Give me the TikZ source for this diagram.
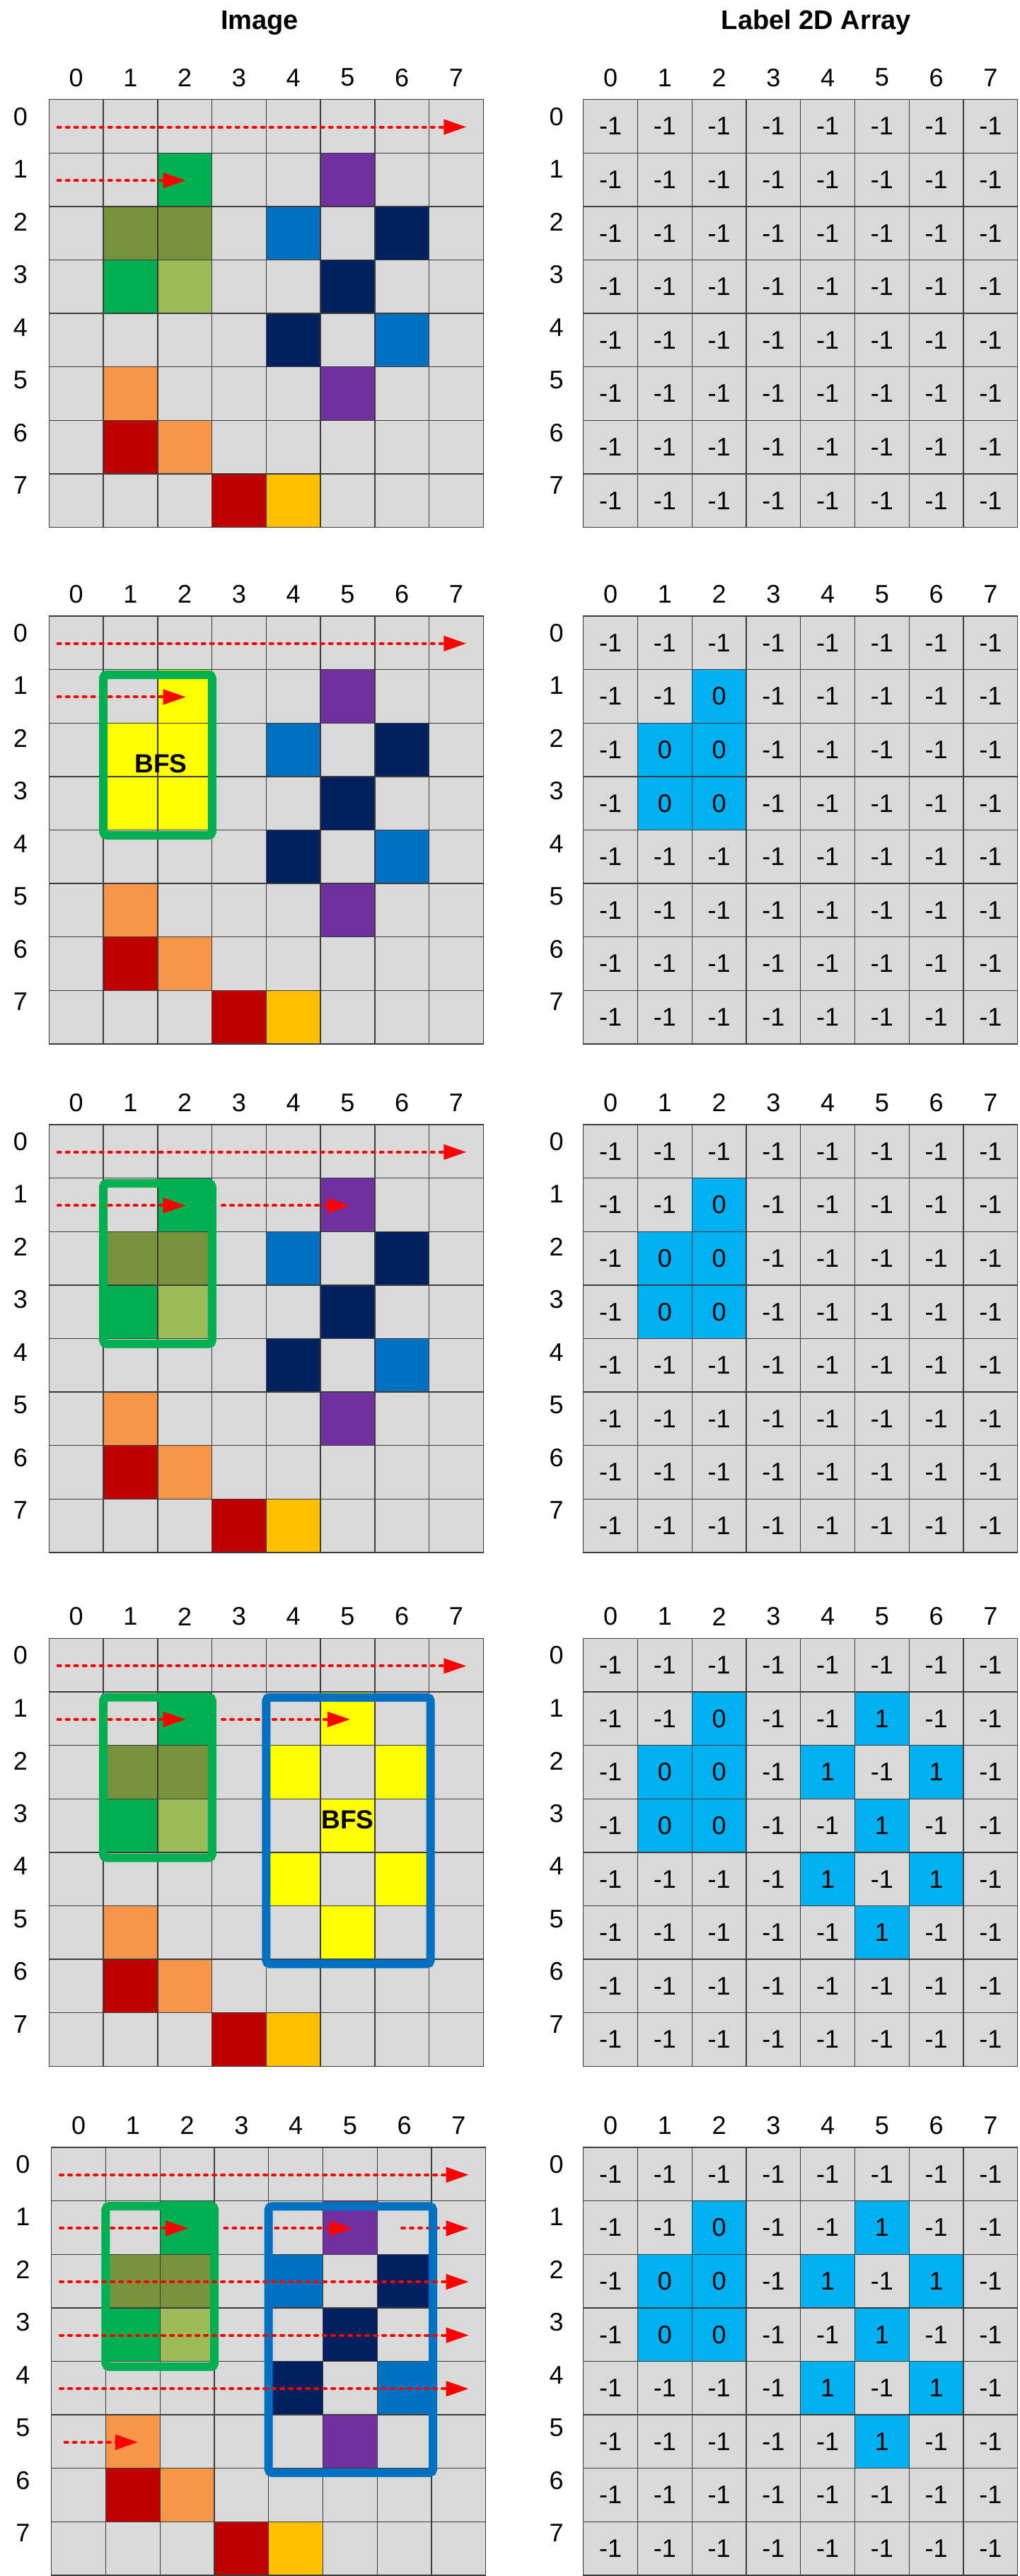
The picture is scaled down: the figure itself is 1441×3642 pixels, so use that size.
\documentclass[tikz,border=0pt]{standalone}
\usepackage{fontspec}
\setmainfont{Liberation Sans}
\usetikzlibrary{arrows.meta}
\definecolor{cellGray}{RGB}{217,217,217}
\definecolor{gridLine}{RGB}{60,60,60}
\definecolor{imgGreen}{RGB}{0,176,80}
\definecolor{imgOlive}{RGB}{119,147,60}
\definecolor{imgLime}{RGB}{155,187,89}
\definecolor{imgPurple}{RGB}{112,48,160}
\definecolor{imgBlue}{RGB}{0,112,192}
\definecolor{imgNavy}{RGB}{0,32,96}
\definecolor{imgPeach}{RGB}{247,150,70}
\definecolor{imgRed}{RGB}{192,0,0}
\definecolor{imgGold}{RGB}{255,192,0}
\definecolor{hitYellow}{RGB}{255,255,0}
\definecolor{labCyan}{RGB}{0,176,240}
\definecolor{scanRed}{RGB}{255,0,0}

\newcommand\cellw{76.75}
\newcommand\cellh{75.6}
% pixel colours of the image: row/col/colour
\newcommand\imgcells{1/2/imgGreen,3/1/imgGreen,2/1/imgOlive,2/2/imgOlive,3/2/imgLime,1/5/imgPurple,5/5/imgPurple,2/4/imgBlue,4/6/imgBlue,2/6/imgNavy,3/5/imgNavy,4/4/imgNavy,5/1/imgPeach,6/2/imgPeach,6/1/imgRed,7/3/imgRed,7/4/imgGold}
\newcommand\compA{1/2,2/1,2/2,3/1,3/2}
\newcommand\compB{1/5,2/4,2/6,3/5,4/4,4/6,5/5}
% final labels, row by row
\newcommand\finallab{{-1,-1,-1,-1,-1,-1,-1,-1,
 -1,-1,0,-1,-1,1,-1,-1,
 -1,0,0,-1,1,-1,1,-1,
 -1,0,0,-1,-1,1,-1,-1,
 -1,-1,-1,-1,1,-1,1,-1,
 -1,-1,-1,-1,-1,1,-1,-1,
 -1,-1,-1,-1,-1,-1,-1,-1,
 -1,-1,-1,-1,-1,-1,-1,-1}}

\begin{document}
\begin{tikzpicture}[x=0.5pt,y=-0.5pt,
  idx/.style={font=\fontsize{18}{21}\selectfont,inner sep=0pt},
  cell/.style={draw=gridLine,line width=0.7pt,inner sep=0pt,minimum width=38.375pt,minimum height=37.8pt,font=\fontsize{18}{21}\selectfont},
  scan/.style={scanRed,line width=2pt,line cap=round,dash pattern=on 2pt off 4pt,-{Triangle[length=16pt,width=10.5pt]}},
  bfsbox/.style={line width=6pt,rounded corners=2.5pt},
  bfstext/.style={font=\bfseries\fontsize{18.5}{21}\selectfont},
  title/.style={font=\bfseries\fontsize{19}{22}\selectfont}]
\useasboundingbox (0,0) rectangle (1441,3642);
\node[title] (imgTitle) at (367,32) {Image};
\node[title] (labTitle) at (1154,32) {Label 2D Array};
% image grids
\foreach \pn/\ptop/\px in {1/140.7/69.3,2/871/69.3,3/1590/69.3,4/2316.5/69.3,5/3036/72.7}{
\begin{scope}[shift={(\px,\ptop)}]
\fill[cellGray] (0,0) rectangle ({8*\cellw},{8*\cellh});
\foreach \r/\c/\col in \imgcells
  \fill[\col] ({\c*\cellw},{\r*\cellh}) rectangle ++(\cellw,\cellh);
\ifnum\pn=2 \foreach \r/\c in \compA \fill[hitYellow] ({\c*\cellw},{\r*\cellh}) rectangle ++(\cellw,\cellh);\fi
\ifnum\pn=4 \foreach \r/\c in \compB \fill[hitYellow] ({\c*\cellw},{\r*\cellh}) rectangle ++(\cellw,\cellh);\fi
\foreach \r in {0,...,7}{
  \node[idx] (irow\pn-\r) at (-40.3,{24+\r*74.5}) {\r};
  \node[idx] (icol\pn-\r) at ({(\r+0.5)*\cellw},-31) {\r};
  \foreach \c in {0,...,7}
    \node[cell] (img\pn-\r-\c) at ({(\c+0.5)*\cellw},{(\r+0.5)*\cellh}) {};}
\end{scope}}
% label grids
\foreach \pn/\ptop in {1/140.7,2/871,3/1590,4/2316.5,5/3036}{
\begin{scope}[shift={(824.7,\ptop)}]
\foreach \r in {0,...,7}{
  \node[idx] (lrow\pn-\r) at (-38.1,{24+\r*74.5}) {\r};
  \node[idx] (lcol\pn-\r) at ({(\r+0.5)*\cellw},-31) {\r};
  \foreach \c in {0,...,7}{
    \pgfmathtruncatemacro\lv{\finallab[8*\r+\c]}
    \pgfmathtruncatemacro\sv{(\lv==0 && \pn>=2) ? 0 : ((\lv==1 && \pn>=4) ? 1 : -1)}
    \ifnum\sv<0 \def\lfill{cellGray}\else\def\lfill{labCyan}\fi
    \node[cell,fill=\lfill] (lab\pn-\r-\c) at ({(\c+0.5)*\cellw},{(\r+0.5)*\cellh}) {\sv};}}
\end{scope}}
% scans and BFS regions
\begin{scope}[shift={(69.3,140.7)}]
\foreach \r/\xa/\xb in {0/12.4/590,1/12.4/193.4}
  \draw[scan] (\xa,{(\r+0.5)*\cellh+1}) -- (\xb,{(\r+0.5)*\cellh+1});
\end{scope}
\begin{scope}[shift={(69.3,871)}]
\foreach \r/\xa/\xb in {0/12.4/590,1/12.4/193.4}
  \draw[scan] (\xa,{(\r+0.5)*\cellh+1}) -- (\xb,{(\r+0.5)*\cellh+1});
\draw[bfsbox,imgGreen] (76.75,83) rectangle (230.5,310);
\node[bfstext] (bfsA) at (158.2,208.7) {BFS};
\end{scope}
\begin{scope}[shift={(69.3,1590)}]
\foreach \r/\xa/\xb in {0/12.4/590,1/12.4/193.4,1/244.7/425.7}
  \draw[scan] (\xa,{(\r+0.5)*\cellh+1}) -- (\xb,{(\r+0.5)*\cellh+1});
\draw[bfsbox,imgGreen] (76.75,83) rectangle (230.5,310);
\end{scope}
\begin{scope}[shift={(69.3,2316.5)}]
\foreach \r/\xa/\xb in {0/12.4/590,1/12.4/193.4,1/244.7/425.7}
  \draw[scan] (\xa,{(\r+0.5)*\cellh+1}) -- (\xb,{(\r+0.5)*\cellh+1});
\draw[bfsbox,imgGreen] (76.75,83) rectangle (230.5,310);
\draw[bfsbox,imgBlue] (307,83.3) rectangle (539.3,460);
\node[bfstext] (bfsB) at (422,256.5) {BFS};
\end{scope}
\begin{scope}[shift={(72.7,3036)}]
\foreach \r/\xa/\xb in {0/12.4/590,1/12.4/193.4,1/244.7/425.7,1/495.3/590}
  \draw[scan] (\xa,{(\r+0.5)*\cellh+1}) -- (\xb,{(\r+0.5)*\cellh+1});
\draw[bfsbox,imgGreen] (76.75,83) rectangle (230.5,310);
\draw[bfsbox,imgBlue] (307,83.3) rectangle (539.3,460);
\foreach \r/\xa/\xb in {2/12.4/590,3/12.4/590,4/12.4/590,5/19/122.3}
  \draw[scan] (\xa,{(\r+0.5)*\cellh+1}) -- (\xb,{(\r+0.5)*\cellh+1});
\end{scope}
\end{tikzpicture}
\end{document}
